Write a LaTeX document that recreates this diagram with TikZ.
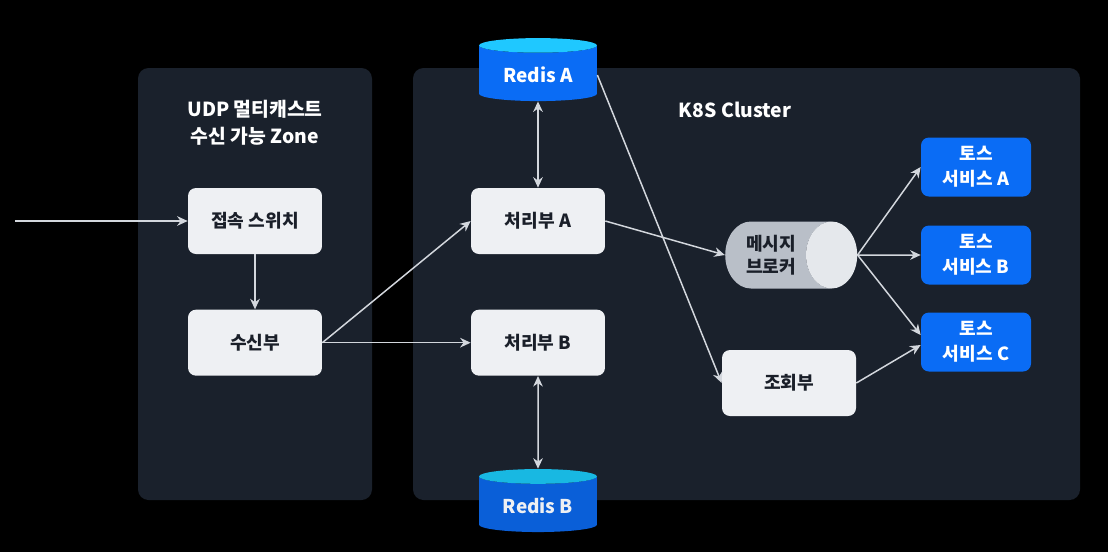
\documentclass[tikz,border=0pt]{standalone}
\usepackage{fontspec}
\setmainfont{Noto Sans CJK KR}
\usetikzlibrary{shapes.geometric, arrows.meta, positioning}
\definecolor{panelgray}{HTML}{1A212C}
\definecolor{boxwhite}{HTML}{EEF0F3}
\definecolor{textdark}{HTML}{1A1F29}
\definecolor{tossblue}{HTML}{0A6CF5}
\definecolor{redistop}{HTML}{1FC8FF}
\definecolor{redisdeep}{HTML}{0A5FD8}
\definecolor{redistopdeep}{HTML}{18B8E2}
\definecolor{arrowgray}{HTML}{D3D7DD}
\definecolor{brokerbody}{HTML}{B9BFC8}
\definecolor{brokerend}{HTML}{E5E8EC}

\begin{document}
\begin{tikzpicture}[
    x=0.02cm, y=-0.02cm,
    node distance=1.1cm,
    zone/.style={fill=panelgray, rounded corners=6pt},
    title/.style={text=white, align=center, font=\bfseries\fontsize{11}{15.4}\selectfont},
    box/.style={rectangle, fill=boxwhite, text=textdark,
                minimum width=2.68cm, minimum height=1.32cm,
                rounded corners=4.5pt, font=\bfseries\fontsize{10.3}{13}\selectfont},
    toss/.style={rectangle, fill=tossblue, text=white, align=center,
                minimum width=2.2cm, minimum height=1.18cm,
                rounded corners=4.5pt, font=\bfseries\fontsize{10.3}{14.2}\selectfont},
    redis/.style={cylinder, shape border rotate=90, aspect=0.18,
                minimum width=2.36cm, minimum height=1.26cm,
                cylinder uses custom fill, cylinder body fill=tossblue,
                cylinder end fill=redistop, text=white,
                font=\bfseries\fontsize{10.8}{13}\selectfont},
    broker/.style={cylinder, aspect=1, align=center,
                minimum width=1.34cm, minimum height=2.64cm,
                cylinder uses custom fill, cylinder body fill=brokerbody,
                cylinder end fill=brokerend, text=textdark,
                font=\bfseries\fontsize{10.3}{12.8}\selectfont},
    arrow/.style={-{Stealth[length=6pt, width=5.5pt]}, line width=0.85pt, arrowgray},
    biarrow/.style={{Stealth[length=6pt, width=5.5pt]}-{Stealth[length=6pt, width=5.5pt]}, line width=0.85pt, arrowgray}
]

% background and the two zones
\fill[black] (0,0) rectangle (1108,552);
\fill[zone] (138,68) rectangle (372,500);
\fill[zone] (413,68) rectangle (1080,500);

\node[title] (zonetitle) at (255,123) {UDP 멀티캐스트\\수신 가능 Zone};
\node[title] (k8stitle) at (735,110) {K8S Cluster};

\coordinate (feed) at (15,221);
\node[box] (switch) at (255,221) {접속 스위치};
\node[box, below=of switch] (recv) {수신부};

\node[box] (procA) at (538,221) {처리부 A};
\node[box, below=of procA] (procB) {처리부 B};

\node[redis] (redisA) at (538,75) {Redis A};
\node[redis, cylinder body fill=redisdeep, cylinder end fill=redistopdeep,
      text=boxwhite] (redisB) at (538,506) {Redis B};

\node[broker] (broker) at (771,255) {메시지\\브로커};
\node[box] (query) at (789,383) {조회부};

\node[toss] (tossA) at (976,167) {토스\\서비스 A};
\node[toss] (tossB) at (976,255) {토스\\서비스 B};
\node[toss] (tossC) at (976,342) {토스\\서비스 C};

\draw[arrow] (feed) -- (switch);
\draw[arrow] (switch) -- (recv);
\draw[arrow] (recv.east) -- (procA.west);
\draw[arrow] (recv.east) -- (procB.west);
\draw[biarrow] (redisA) -- (procA);
\draw[biarrow] (procB) -- (redisB);
\draw[arrow] (redisA.east) -- (query.west);
\draw[arrow] (procA.east) -- (broker.west);
\draw[arrow] (broker.east) -- (tossA.west);
\draw[arrow] (broker.east) -- (tossB.west);
\draw[arrow] (broker.east) -- ([yshift=0.14cm]tossC.west);
\draw[arrow] (query.east) -- ([yshift=-0.06cm]tossC.west);

\end{tikzpicture}
\end{document}
